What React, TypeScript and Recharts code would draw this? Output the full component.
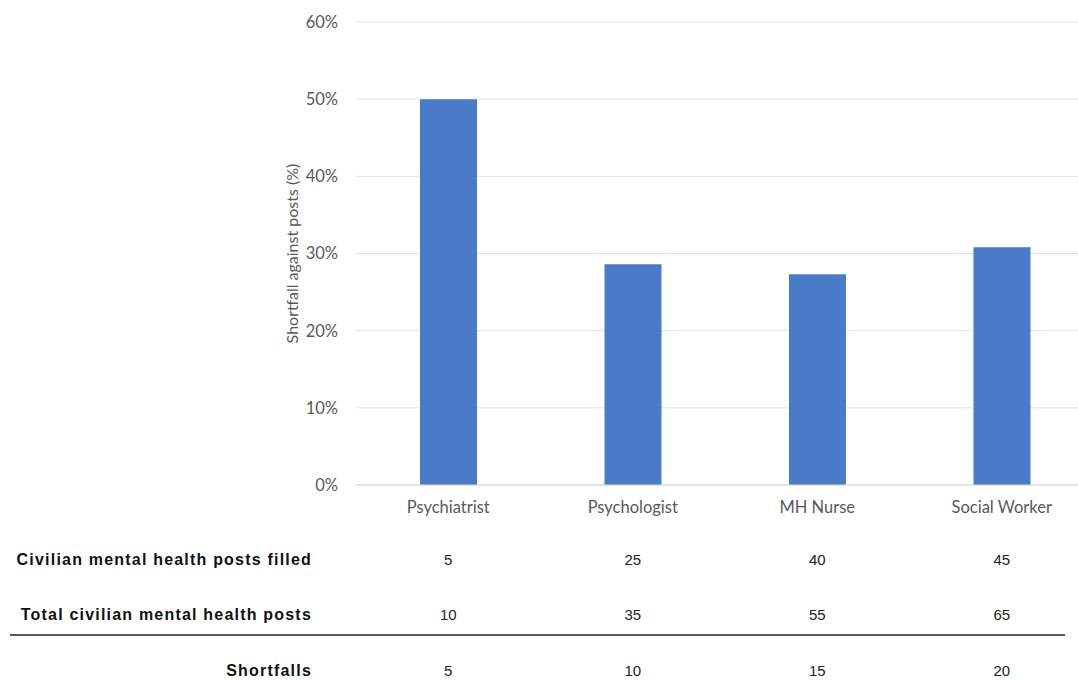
import React from 'react';
import {
  BarChart,
  Bar,
  XAxis,
  YAxis,
  CartesianGrid,
  Label
} from 'recharts';

const roles = ['Psychiatrist', 'Psychologist', 'MH Nurse', 'Social Worker'];
const shortfallPct = [50, 28.6, 27.3, 30.8];
const postsFilled = [5, 25, 40, 45];
const totalPosts = [10, 35, 55, 65];
const shortfalls = [5, 10, 15, 20];
const rowLabels = [
  'Civilian mental health posts filled',
  'Total civilian mental health posts',
  'Shortfalls'
];
const yTicks = [0, 10, 20, 30, 40, 50, 60];

const data = roles.map((role, i) => ({
  role,
  pct: shortfallPct[i],
  filled: postsFilled[i],
  total: totalPosts[i],
  short: shortfalls[i]
}));

const AXIS_GREY = '#595959';
const TICK_FONT = 'Lato, "Open Sans", sans-serif';
const TABLE_FONT = '"Liberation Sans Narrow", "Arial Narrow", "Liberation Sans", sans-serif';

// row baselines, relative to the tick y (bottom of the plot)
const ROW_DY = [80, 135, 191];

function TableTick(props: any) {
  const { x, y, payload, index } = props;
  const row = data[index];
  const values = [row.filled, row.total, row.short];
  return (
    <g>
      <text x={x} y={y + 28} textAnchor="middle" fill={AXIS_GREY} fontSize={16.5} fontFamily={TICK_FONT}>
        {payload.value}
      </text>
      {values.map((v, i) => (
        <text key={i} x={x} y={y + ROW_DY[i]} textAnchor="middle" fill="#222" fontSize={15} fontFamily={TABLE_FONT}>
          {v}
        </text>
      ))}
      {index === 0 && (
        <g>
          {rowLabels.map((label, i) => (
            <text
              key={label}
              x={312}
              y={y + ROW_DY[i]}
              textAnchor="end"
              fill="#111"
              fontSize={16}
              fontWeight="bold"
              letterSpacing={1.2}
              fontFamily={TABLE_FONT}
            >
              {label}
            </text>
          ))}
          {/** rule between totals and shortfalls */}
          <line x1={10} x2={1065} y1={y + 150} y2={y + 150} stroke="#222" strokeWidth={1.6} />
        </g>
      )}
    </g>
  );
}

export default function App() {
  return (
    <div style={{ position: 'absolute', left: 0, top: 0, width: 1078, height: 681, overflow: 'hidden', background: '#fff' }}>
      <BarChart
        width={1100}
        height={681}
        data={data}
        margin={{ top: 22, right: 6, bottom: 0, left: 0 }}
        barCategoryGap={0}
      >
        <CartesianGrid vertical={false} stroke="#e3e3e3" />
        <XAxis
          dataKey="role"
          height={196}
          tickSize={0}
          tickMargin={0}
          tickLine={false}
          axisLine={{ stroke: '#d9d9d9' }}
          interval={0}
          tick={<TableTick />}
        />
        <YAxis
          width={356}
          domain={[0, 60]}
          ticks={yTicks}
          tickFormatter={(v: number) => `${v}%`}
          tickLine={false}
          axisLine={false}
          tickMargin={12}
          tick={{ fill: AXIS_GREY, fontSize: 16.5, fontFamily: TICK_FONT }}
        >
          <Label
            content={(p: any) => {
              const cy = p.viewBox.y + p.viewBox.height / 2;
              return (
                <text
                  x={298}
                  y={cy}
                  transform={`rotate(-90, 298, ${cy})`}
                  textAnchor="middle"
                  fill={AXIS_GREY}
                  fontSize={16}
                  fontFamily={TICK_FONT}
                >
                  Shortfall against posts (%)
                </text>
              );
            }}
          />
        </YAxis>
        <Bar dataKey="pct" fill="#4a7bc9" barSize={57} isAnimationActive={false} />
      </BarChart>
    </div>
  );
}
